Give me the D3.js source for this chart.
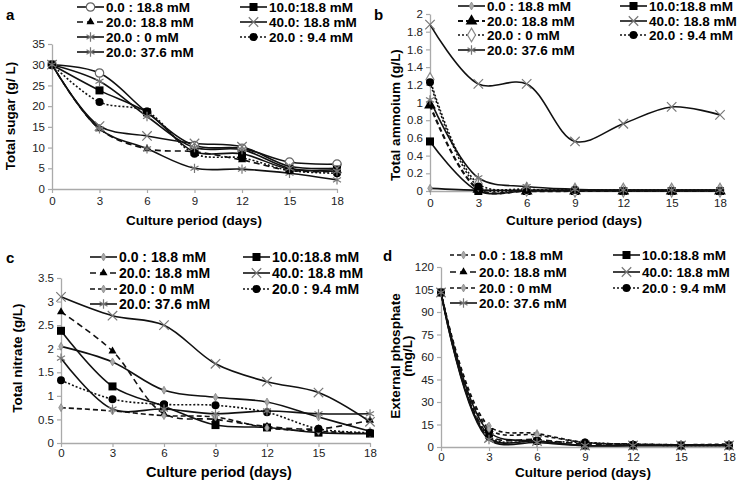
<!DOCTYPE html>
<html>
<head>
<meta charset="utf-8">
<script src="https://cdn.jsdelivr.net/npm/d3@7"></script>
<style>
  body { margin: 0; background: #fff; }
  svg { display: block; font-family: "Liberation Sans", Arial, sans-serif; }
</style>
</head>
<body>
<div id="chart"></div>
<script>
// Culture days on the x axis
const days = [0, 3, 6, 9, 12, 15, 18];

// Series names (same order in every panel)
const seriesNames = [
  "0.0 : 18.8 mM",
  "10.0:18.8 mM",
  "20.0: 18.8 mM",
  "40.0: 18.8 mM",
  "20.0 : 0 mM",
  "20.0 : 9.4 mM",
  "20.0: 37.6 mM",
];

// a - total sugar (g/L)
const sugar = [
  [30, 28, 18.5, 10.5, 9.8, 6.5, 6],
  [30, 23.8, 18.5, 9, 8.5, 4.8, 4.7],
  [30, 14.5, 9.7, 9, 7, 4.5, 4.2],
  [30, 15.2, 12.8, 11, 10.2, 5.5, 5],
  [30, 14.5, 9.7, 5, 4.8, 3.8, 2.2],
  [30, 21, 18.7, 8.5, 7.5, 4.5, 3.8],
  [30, 26, 17.5, 10, 9.5, 5, 4.3],
];

// b - total ammonium (g/L)
const ammonium = [
  [0.03, 0.01, 0.01, 0.01, 0.01, 0.01, 0.01],
  [0.56, 0.0, 0.0, 0.0, 0.0, 0.0, 0.0],
  [0.97, 0.02, 0.0, 0.0, 0.0, 0.0, 0.0],
  [1.88, 1.21, 1.21, 0.56, 0.76, 0.95, 0.86],
  [1.26, 0.08, 0.02, 0.01, 0.01, 0.01, 0.01],
  [1.23, 0.05, 0.01, 0.01, 0.0, 0.0, 0.0],
  [1.03, 0.15, 0.05, 0.02, 0.01, 0.01, 0.01],
];

// c - total nitrate (g/L)
const nitrate = [
  [2.05, 1.72, 1.12, 0.97, 0.87, 0.55, 0.25],
  [2.38, 1.2, 0.78, 0.38, 0.33, 0.22, 0.2],
  [2.78, 1.95, 0.62, 0.5, 0.35, 0.3, 0.48],
  [3.1, 2.7, 2.5, 1.68, 1.3, 1.07, 0.45],
  [0.75, 0.68, 0.58, 0.55, 0.32, 0.25, 0.2],
  [1.33, 0.93, 0.82, 0.8, 0.65, 0.3, 0.22],
  [1.8, 0.72, 0.72, 0.62, 0.68, 0.62, 0.62],
];

// d - external phosphate (mg/L)
const phosphate = [
  [103, 14, 9, 3, 2, 1.5, 2],
  [103, 10, 4, 1, 1, 1, 1],
  [103, 8, 5, 2, 1.5, 1.5, 1.5],
  [103, 6, 4, 1, 1, 1, 1],
  [103, 12, 8, 3, 2, 1.5, 1.5],
  [103, 7, 4, 3, 1.5, 1, 1],
  [103, 5, 3, 1, 1, 1, 1],
];

// y tick values
const sugarTicks = [0, 5, 10, 15, 20, 25, 30, 35];
const ammoniumTicks = [0, 0.2, 0.4, 0.6, 0.8, 1, 1.2, 1.4, 1.6, 1.8, 2];
const nitrateTicks = [0, 0.5, 1, 1.5, 2, 2.5, 3, 3.5];
const phosphateTicks = [0, 15, 30, 45, 60, 75, 90, 105, 120];

var width = 737;
var height = 482;

var svg = d3
  .select("#chart")
  .append("svg")
  .attr("width", width)
  .attr("height", height);

svg.append("rect").attr("width", width).attr("height", height).attr("fill", "#fff");

// line dash styles
var SOLID = null;
var DASH = "6,4";
var DOT = "2,2";

var panels = [
  {
    letter: "a", lx: 6, ly: 20,
    data: sugar, ticks: sugarTicks, ymax: 35,
    x0: 52, x1: 337, yTop: 44, yBot: 189, pad: 4,
    ytitle: ["Total sugar (g/ L)"], ytx: [15], yty: 116,
    xtitleX: 194, xtitleY: 225, xfont: 13.5,
    markers: ["circleOpen", "square", "triangleSmall", "times", "asterisk", "circle", "asterisk"],
    dashes: [SOLID, SOLID, DASH, SOLID, SOLID, DOT, SOLID],
    legL: 77, legR: 240, legRows: [7, 22, 37, 52],
    font: 13.5,
  },
  {
    letter: "b", lx: 374, ly: 20,
    data: ammonium, ticks: ammoniumTicks, ymax: 2,
    x0: 430, x1: 720, yTop: 14, yBot: 191, pad: 4,
    ytitle: ["Total ammoium (g/L)"], ytx: [400], yty: 115,
    xtitleX: 574, xtitleY: 225, xfont: 13.5,
    markers: ["diamondSmall", "square", "triangle", "times", "diamondOpen", "circle", "asterisk"],
    dashes: [SOLID, SOLID, "5,3", SOLID, DOT, DOT, SOLID],
    legL: 458, legR: 620, legRows: [6, 21, 35, 50],
    font: 13.5,
  },
  {
    letter: "c", lx: 6, ly: 263,
    data: nitrate, ticks: nitrateTicks, ymax: 3.5,
    x0: 61, x1: 370, yTop: 278, yBot: 443, pad: 2,
    ytitle: ["Total nitrate (g/L)"], ytx: [22], yty: 358,
    xtitleX: 219, xtitleY: 477, xfont: 14.5,
    markers: ["diamondSmall", "square", "triangleSmall", "times", "diamondSmall", "circle", "asterisk"],
    dashes: [SOLID, SOLID, DASH, SOLID, "5,3", DOT, SOLID],
    legL: 90, legR: 243, legRows: [257, 273, 289, 304],
    font: 14,
  },
  {
    letter: "d", lx: 383, ly: 261,
    data: phosphate, ticks: phosphateTicks, ymax: 120,
    x0: 441, x1: 729, yTop: 267, yBot: 447, pad: 2,
    ytitle: ["External phosphate", "(mg/L)"], ytx: [400, 412], yty: 356,
    xtitleX: 583, xtitleY: 477, xfont: 13.5,
    markers: ["diamondSmall", "square", "triangleSmall", "times", "diamondSmall", "circle", "asterisk"],
    dashes: ["4,3", SOLID, DASH, SOLID, "4,3", DOT, SOLID],
    legL: 450, legR: 613, legRows: [255, 272, 288, 303],
    font: 13.5,
  },
];

// Draw one marker centred at 0,0 inside group g
function drawMarker(g, type) {
  if (type === "circleOpen") {
    g.append("circle").attr("r", 4.2).attr("fill", "#fff").attr("stroke", "#666").attr("stroke-width", 1.2);
  } else if (type === "square") {
    g.append("rect").attr("x", -4).attr("y", -4).attr("width", 8).attr("height", 8).attr("fill", "#000");
  } else if (type === "circle") {
    g.append("circle").attr("r", 4).attr("fill", "#000");
  } else if (type === "triangle") {
    g.append("path").attr("d", d3.symbol(d3.symbolTriangle, 60)()).attr("fill", "#000");
  } else if (type === "triangleSmall") {
    g.append("path").attr("d", d3.symbol(d3.symbolTriangle, 28)()).attr("fill", "#000");
  } else if (type === "times") {
    g.append("path").attr("d", d3.symbol(d3.symbolTimes, 60)()).attr("fill", "none").attr("stroke", "#777").attr("stroke-width", 1.2);
  } else if (type === "asterisk") {
    g.append("path").attr("d", d3.symbol(d3.symbolAsterisk, 60)()).attr("fill", "none").attr("stroke", "#777").attr("stroke-width", 1.2);
  } else if (type === "diamondSmall") {
    g.append("path").attr("d", d3.symbol(d3.symbolDiamond, 18)()).attr("fill", "#aaa").attr("stroke", "#888").attr("stroke-width", 0.8);
  } else if (type === "diamondOpen") {
    g.append("path").attr("d", d3.symbol(d3.symbolDiamond, 55)()).attr("fill", "#fff").attr("stroke", "#888").attr("stroke-width", 1.2);
  }
}

panels.forEach(function (p) {
  var x = d3.scaleLinear().domain([0, 18]).range([p.x0, p.x1]);
  var y = d3.scaleLinear().domain([0, p.ymax]).range([p.yBot, p.yTop]);
  var g = svg.append("g");

  // Axes
  var yAxis = g
    .append("g")
    .attr("transform", "translate(" + p.x0 + ",0)")
    .call(
      d3.axisLeft(y).tickValues(p.ticks).tickSize(4).tickSizeOuter(0)
        .tickFormat(function (d) { return String(+d.toFixed(1)); })
    );
  var xAxis = g
    .append("g")
    .attr("transform", "translate(0," + p.yBot + ")")
    .call(d3.axisBottom(x).tickValues(days).tickSize(4).tickSizeOuter(0).tickPadding(p.pad));

  [xAxis, yAxis].forEach(function (ax) {
    ax.select(".domain").attr("stroke", "#aaa").attr("stroke-width", 1.3);
    ax.selectAll(".tick line").attr("stroke", "#aaa").attr("stroke-width", 1.2);
    ax.selectAll(".tick text")
      .attr("fill", "#222")
      .style("font-size", "11.5px")
      .style("font-family", "'Liberation Sans', Arial, sans-serif");
  });

  // Lines, Excel-like smoothing
  var line = d3
    .line()
    .x(function (d, i) { return x(days[i]); })
    .y(function (d) { return y(d); })
    .curve(d3.curveCatmullRom.alpha(0.5));

  p.data.forEach(function (vals, s) {
    g.append("path")
      .attr("d", line(vals))
      .attr("fill", "none")
      .attr("stroke", "#111")
      .attr("stroke-width", s === 2 && p.letter === "b" ? 2.2 : 1.6)
      .attr("stroke-dasharray", p.dashes[s]);
  });

  // Markers
  p.data.forEach(function (vals, s) {
    vals.forEach(function (v, i) {
      var m = g.append("g").attr("transform", "translate(" + x(days[i]) + "," + y(v) + ")");
      drawMarker(m, p.markers[s]);
    });
  });

  // Panel letter
  svg.append("text")
    .attr("x", p.lx)
    .attr("y", p.ly)
    .style("font-size", "15px")
    .style("font-weight", "bold")
    .text(p.letter);

  // Axis titles
  svg.append("text")
    .attr("x", p.xtitleX)
    .attr("y", p.xtitleY)
    .attr("text-anchor", "middle")
    .style("font-size", p.xfont + "px")
    .style("font-weight", "bold")
    .text("Culture period (days)");

  p.ytitle.forEach(function (t, k) {
    svg.append("text")
      .attr("transform", "translate(" + p.ytx[k] + "," + p.yty + ") rotate(-90)")
      .attr("text-anchor", "middle")
      .style("font-size", "13.5px")
      .style("font-weight", "bold")
      .text(t);
  });

  // Legend: left column 0,2,4,6 - right column 1,3,5
  seriesNames.forEach(function (name, s) {
    var col = s % 2;
    var row = Math.floor(s / 2);
    var lx = col === 0 ? p.legL : p.legR;
    var ly = p.legRows[row];
    var lg = svg.append("g").attr("transform", "translate(" + lx + "," + ly + ")");
    lg.append("line")
      .attr("x1", 0).attr("x2", 27)
      .attr("stroke", "#111")
      .attr("stroke-width", s === 2 && p.letter === "b" ? 2.2 : 1.6)
      .attr("stroke-dasharray", p.dashes[s]);
    var m = lg.append("g").attr("transform", "translate(13.5,0)");
    drawMarker(m, p.markers[s]);
    lg.append("text")
      .attr("x", 29)
      .attr("dy", "0.36em")
      .style("font-size", p.font + "px")
      .style("font-weight", "bold")
      .text(name);
  });
});
</script>
</body>
</html>
